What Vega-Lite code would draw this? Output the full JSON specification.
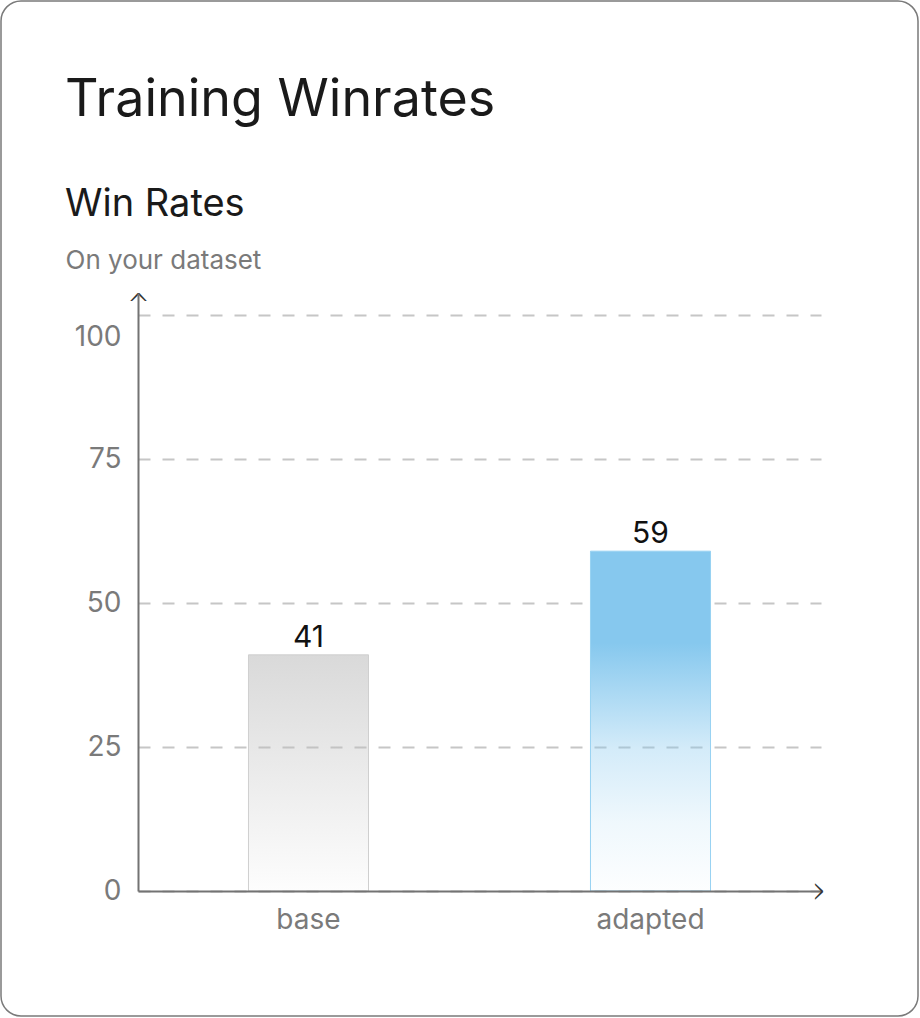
{
  "$schema": "https://vega.github.io/schema/vega-lite/v6.json",
  "width": 683,
  "height": 598,
  "padding": 0,
  "background": "#ffffff",
  "title": {
    "text": "Training Winrates",
    "subtitle": "Win Rates",
    "anchor": "start",
    "frame": "group",
    "dx": -73,
    "offset": -225,
    "font": "Inter",
    "fontSize": 52,
    "fontWeight": "normal",
    "color": "#1a1a1a",
    "subtitleFont": "Inter",
    "subtitleFontSize": 38,
    "subtitleFontWeight": "normal",
    "subtitleColor": "#1a1a1a",
    "subtitlePadding": 59
  },
  "layer": [
    {
      "data": {"values": [{}]},
      "mark": {"type": "rect", "filled": false, "color": "#7a7a7a", "strokeWidth": 1.5, "cornerRadius": 20},
      "encoding": {
        "x": {"datum": 0, "type": "quantitative", "scale": {"domain": [0.1494, 0.89422], "nice": false, "zero": false}, "axis": null},
        "x2": {"datum": 1},
        "y": {
          "datum": 0,
          "type": "quantitative",
          "scale": {"domain": [0.123153, 0.712316], "nice": false, "zero": false},
          "axis": {
            "orient": "right",
            "domain": false,
            "ticks": false,
            "labels": false,
            "grid": false,
            "title": "^",
            "titleX": -683,
            "titleY": -2,
            "titleAngle": 0,
            "titleAlign": "center",
            "titleBaseline": "top",
            "titleFont": "DejaVu Sans",
            "titleFontWeight": 200,
            "titleFontSize": 28,
            "titleColor": "#333333"
          }
        },
        "y2": {"datum": 1}
      }
    },
    {
      "data": {
        "values": [
          {"model": "base", "winrate": 41},
          {"model": "adapted", "winrate": 59}
        ]
      },
      "encoding": {
        "x": {
          "field": "model",
          "type": "nominal",
          "sort": ["base", "adapted"],
          "scale": {"paddingInner": 0.649, "paddingOuter": 0.323},
          "axis": {
            "zindex": 1,
            "labelAngle": 0,
            "labelFont": "Inter",
            "labelFontSize": 28,
            "labelColor": "#7a7a7a",
            "labelPadding": 15,
            "ticks": false,
            "tickSize": 0,
            "domainColor": "#737373",
            "domainWidth": 2,
            "grid": false,
            "title": "^",
            "titleX": 685,
            "titleY": 0,
            "titleAngle": 90,
            "titleAlign": "center",
            "titleBaseline": "top",
            "titleFont": "DejaVu Sans",
            "titleFontWeight": 200,
            "titleFontSize": 28,
            "titleColor": "#333333"
          }
        },
        "y": {
          "field": "winrate",
          "type": "quantitative",
          "scale": {"domain": [0, 103.82], "nice": false},
          "axis": {
            "values": [0, 25, 50, 75, 100],
            "labelFont": "Inter",
            "labelFontSize": 28,
            "labelColor": "#7a7a7a",
            "labelPadding": 17,
            "labelFlush": false,
            "labelOffset": {"condition": {"test": "datum.value === 100", "value": 22}, "value": 0},
            "ticks": false,
            "tickSize": 0,
            "domainColor": "#737373",
            "domainWidth": 2,
            "grid": true,
            "gridColor": "#c6c6c6",
            "gridWidth": 2,
            "gridDash": [12, 12],
            "title": "On your dataset",
            "titleX": -73,
            "titleY": -25,
            "titleAngle": 0,
            "titleAlign": "left",
            "titleBaseline": "alphabetic",
            "titleFont": "Inter",
            "titleFontWeight": "normal",
            "titleFontSize": 26,
            "titleColor": "#7a7a7a"
          }
        }
      },
      "layer": [
        {
          "transform": [{"filter": "datum.model === 'base'"}],
          "mark": {
            "type": "bar",
            "stroke": "#cfcfcf",
            "strokeWidth": 1,
            "fill": {
              "gradient": "linear",
              "x1": 0, "y1": 0, "x2": 0, "y2": 1,
              "stops": [
                {"offset": 0, "color": "rgba(190,190,190,0.58)"},
                {"offset": 1, "color": "rgba(190,190,190,0.03)"}
              ]
            }
          }
        },
        {
          "transform": [{"filter": "datum.model === 'adapted'"}],
          "mark": {
            "type": "bar",
            "stroke": "#98d2f2",
            "strokeWidth": 1,
            "fill": {
              "gradient": "linear",
              "x1": 0, "y1": 0, "x2": 0, "y2": 1,
              "stops": [
                {"offset": 0, "color": "rgba(134,200,238,1)"},
                {"offset": 0.27, "color": "rgba(134,200,238,1)"},
                {"offset": 0.58, "color": "rgba(134,200,238,0.36)"},
                {"offset": 0.8, "color": "rgba(134,200,238,0.13)"},
                {"offset": 1, "color": "rgba(134,200,238,0.02)"}
              ]
            }
          }
        },
        {
          "mark": {"type": "text", "font": "Inter", "fontSize": 30, "color": "#111111", "baseline": "alphabetic", "dy": -8},
          "encoding": {"text": {"field": "winrate", "type": "quantitative"}}
        }
      ]
    }
  ],
  "resolve": {"scale": {"x": "independent", "y": "independent"}},
  "config": {"view": {"stroke": null}}
}
